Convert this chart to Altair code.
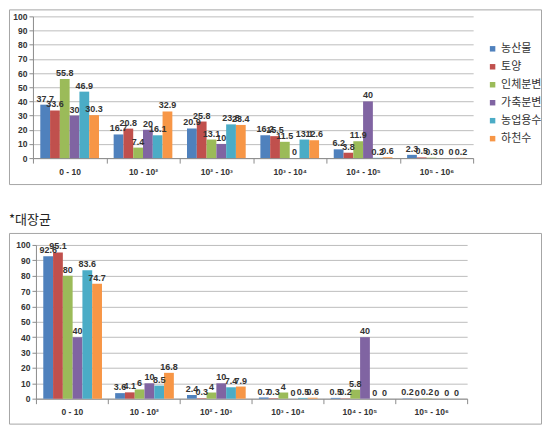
import altair as alt
import pandas as pd

categories = ["0 - 10", "10 - 10²", "10² - 10³", "10³ - 10⁴", "10⁴ - 10⁵", "10⁵ - 10⁶"]
series = ["농산물", "토양", "인체분변", "가축분변", "농업용수", "하천수"]
colors = ["#4F81BD", "#C0504D", "#9BBB59", "#8064A2", "#4BACC6", "#F79646"]
y_ticks = [0, 10, 20, 30, 40, 50, 60, 70, 80, 90, 100]

# top panel
top_produce = [37.7, 16.7, 20.9, 16.2, 6.2, 2.3]
top_soil = [33.6, 20.8, 25.8, 15.5, 3.8, 0.5]
top_human = [55.8, 7.4, 13.1, 11.5, 11.9, 0.3]
top_livestock = [30, 20, 10, 0, 40, 0]
top_irrigation = [46.9, 16.1, 23.8, 13.1, 0.2, 0]
top_river = [30.3, 32.9, 23.4, 12.6, 0.6, 0.2]

# bottom panel (*대장균)
bot_produce = [92.6, 3.6, 2.4, 0.7, 0.5, 0.2]
bot_soil = [95.1, 4.1, 0.3, 0.3, 0.2, 0]
bot_human = [80, 6, 4, 4, 5.8, 0.2]
bot_livestock = [40, 10, 10, 0, 40, 0]
bot_irrigation = [83.6, 8.5, 7.4, 0.5, 0, 0]
bot_river = [74.7, 16.8, 7.9, 0.6, 0, 0]

bottom_title = "*대장균"

NUM_FONT = "Liberation Sans"
KR_FONT = "Noto Sans CJK KR"
GRID = "#bdbdbd"
AXIS = "#8c8c8c"
TXT = "#333333"


def long_frame(cols):
    rows = []
    for s, vals in zip(series, cols):
        for c, v in zip(categories, vals):
            rows.append({"cat": c, "series": s, "value": v, "label": f"{v:g}"})
    return pd.DataFrame(rows)


def panel(df, width, height, y_zero, y_full, x_lo, x_hi, legend_x, legend_y, title=None):
    x = alt.X(
        "cat:N", sort=categories, title=None,
        scale=alt.Scale(domain=categories, range=[x_lo, x_hi], paddingInner=0, paddingOuter=0),
        axis=alt.Axis(labelAngle=0, tickBand="extent", offset=-(height - y_zero),
                      domainColor=AXIS, tickColor=AXIS, tickSize=5, labelPadding=4,
                      labelFont=NUM_FONT, labelFontSize=8.5, labelFontWeight="bold",
                      labelColor=TXT, grid=False),
    )
    xo = alt.XOffset("series:N", sort=series,
                     scale=alt.Scale(domain=series, paddingInner=0, paddingOuter=0.75))
    y = alt.Y(
        "value:Q", title=None,
        scale=alt.Scale(domain=[0, 100], range=[y_zero, y_full], nice=False),
        axis=alt.Axis(values=y_ticks, offset=-x_lo, grid=True, gridColor=GRID,
                      domainColor=AXIS, tickColor=AXIS, tickSize=4, labelPadding=2,
                      labelFont=NUM_FONT, labelFontSize=8.5, labelFontWeight="bold",
                      labelColor=TXT),
    )
    bars = alt.Chart(df).mark_bar().encode(
        x=x, xOffset=xo, y=y,
        color=alt.Color("series:N", sort=series,
                        scale=alt.Scale(domain=series, range=colors),
                        legend=alt.Legend(title=None, orient="none", legendX=legend_x,
                                          legendY=legend_y, symbolType="square",
                                          symbolSize=30, symbolStrokeWidth=0,
                                          labelFont=KR_FONT, labelFontSize=11,
                                          labelColor=TXT, rowPadding=6, labelOffset=3,
                                          padding=0)),
    )
    labels = alt.Chart(df).mark_text(
        baseline="bottom", dy=-1, font=NUM_FONT, fontSize=9, fontWeight="bold", color=TXT
    ).encode(x=x, xOffset=xo, y=y, text="label:N")
    ch = alt.layer(bars, labels).properties(width=width, height=height)
    if title:
        ch = ch.properties(title=alt.TitleParams(title, anchor="start", font=KR_FONT,
                                                 fontSize=13, fontWeight="normal",
                                                 color="#222222", offset=6))
    return ch


top = panel(long_frame([top_produce, top_soil, top_human, top_livestock, top_irrigation, top_river]),
            533, 175, 149, 7, 24, 465, 479, 34)
bottom = panel(long_frame([bot_produce, bot_soil, bot_human, bot_livestock, bot_irrigation, bot_river]),
               533, 191, 166, 12, 27, 459, 479, 44, title=bottom_title)

chart = alt.vconcat(top, bottom, spacing=28).properties(
    padding={"left": 0, "top": 0, "right": 0, "bottom": 0}
).configure_view(stroke="#a6a6a6", strokeWidth=1).configure_concat(spacing=28)

chart.save("out.html", embed_options={"renderer": "svg", "actions": False})
